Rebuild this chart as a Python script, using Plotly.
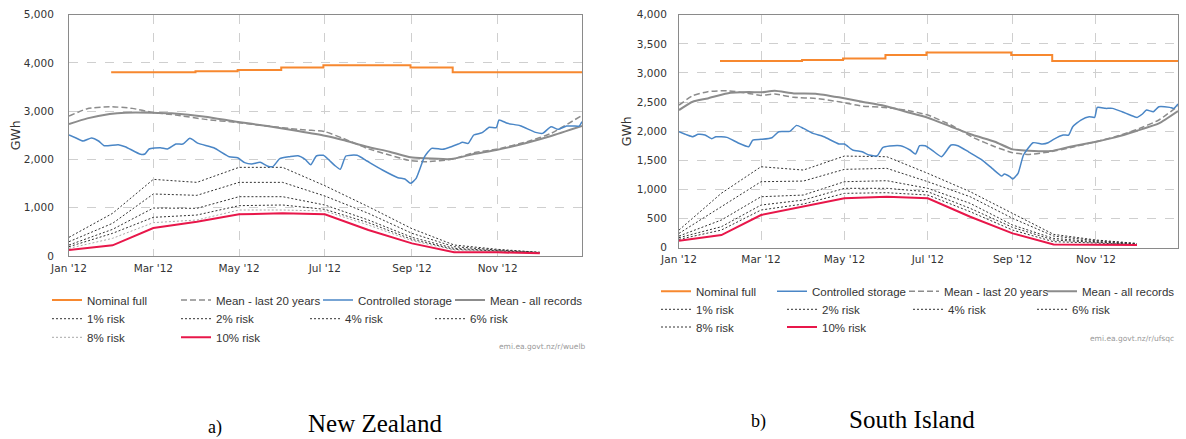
import plotly.graph_objects as go

W, H = 1186, 439

# ---------------- New Zealand (left) ----------------
nz_nominal_dates = ["2012-01-31", "2012-03-31", "2012-04-30", "2012-05-31", "2012-06-30", "2012-08-31", "2012-09-30", "2012-12-31"]
nz_nominal = [3805, 3826, 3853, 3905, 3955, 3905, 3805, 3805]

nz_mean20_dates = ["2012-01-01", "2012-01-14", "2012-01-30", "2012-02-15", "2012-02-29", "2012-03-17", "2012-04-07", "2012-04-29",
                   "2012-05-21", "2012-06-12", "2012-07-01", "2012-07-14", "2012-07-31", "2012-08-16", "2012-08-31", "2012-09-12",
                   "2012-09-29", "2012-10-15", "2012-10-31", "2012-11-22", "2012-12-09", "2012-12-31"]
nz_mean20 = [2900, 3052, 3094, 3059, 2977, 2921, 2831, 2769, 2693, 2624, 2576, 2438, 2231, 2093, 1975, 1954,
             2003, 2141, 2210, 2369, 2541, 2914]

nz_meanall_dates = ["2012-01-01", "2012-01-14", "2012-01-30", "2012-02-10", "2012-02-29", "2012-03-14", "2012-04-07", "2012-04-29",
                    "2012-05-21", "2012-06-12", "2012-07-01", "2012-07-14", "2012-07-31", "2012-08-16", "2012-08-31", "2012-09-10",
                    "2012-09-29", "2012-10-15", "2012-10-31", "2012-11-22", "2012-12-09", "2012-12-31"]
nz_meanall = [2735, 2852, 2942, 2970, 2970, 2956, 2887, 2783, 2693, 2590, 2493, 2403, 2265, 2162, 2044, 2023,
              2010, 2113, 2196, 2348, 2486, 2693]

nz_storage_dates = ["2012-01-01", "2012-01-06", "2012-01-11", "2012-01-17", "2012-01-22", "2012-01-26", "2012-02-05", "2012-02-10",
                    "2012-02-21", "2012-02-24", "2012-02-27", "2012-03-06", "2012-03-11", "2012-03-17", "2012-03-22", "2012-03-27",
                    "2012-04-02", "2012-04-13", "2012-04-24", "2012-04-30", "2012-05-05", "2012-05-10", "2012-05-16", "2012-05-21",
                    "2012-05-25", "2012-05-30", "2012-06-06", "2012-06-12", "2012-06-17", "2012-06-21", "2012-06-25", "2012-06-30",
                    "2012-07-04", "2012-07-08", "2012-07-12", "2012-07-16", "2012-07-24", "2012-07-31", "2012-08-11", "2012-08-22",
                    "2012-08-27", "2012-08-31", "2012-09-04", "2012-09-10", "2012-09-15", "2012-09-23", "2012-09-29", "2012-10-04",
                    "2012-10-07", "2012-10-11", "2012-10-15", "2012-10-21", "2012-10-26", "2012-10-31", "2012-11-02", "2012-11-08",
                    "2012-11-17", "2012-11-28", "2012-12-03", "2012-12-09", "2012-12-14", "2012-12-20", "2012-12-25", "2012-12-29",
                    "2012-12-31"]
nz_storage = [2507, 2445, 2383, 2445, 2383, 2286, 2307, 2265, 2106, 2113, 2217, 2244, 2217, 2320, 2320, 2438,
              2334, 2244, 2058, 2037, 1934, 1906, 1941, 1865, 1851, 2017, 2058, 2079, 2003, 1892, 2072, 2086,
              1989, 1878, 1796, 2072, 2086, 1968, 1782, 1623, 1595, 1505, 1609, 2058, 2231, 2210, 2265, 2320,
              2355, 2334, 2507, 2555, 2666, 2659, 2818, 2749, 2700, 2562, 2541, 2679, 2624, 2693, 2693, 2693,
              2783]

risk_dates = ["2012-01-01", "2012-02-01", "2012-03-01", "2012-04-01", "2012-05-01", "2012-06-01",
              "2012-07-01", "2012-08-01", "2012-09-01", "2012-10-01", "2012-11-01", "2012-12-01"]
nz_risk1 = [387, 884, 1588, 1526, 1837, 1837, 1457, 1022, 566, 228, 138, 76]
nz_risk2 = [297, 677, 1285, 1257, 1526, 1526, 1243, 884, 470, 193, 124, 76]
nz_risk4 = [228, 552, 994, 988, 1229, 1229, 1057, 746, 387, 159, 110, 69]
nz_risk6 = [193, 470, 801, 849, 1043, 1057, 967, 691, 345, 138, 104, 69]
nz_risk8 = [159, 366, 691, 746, 953, 953, 932, 642, 318, 124, 97, 62]
nz_risk10 = [124, 221, 580, 712, 863, 884, 863, 539, 262, 76, 76, 55]

# ---------------- South Island (right) ----------------
si_nominal_dates = nz_nominal_dates
si_nominal = [3204, 3221, 3250, 3307, 3353, 3307, 3204, 3204]

si_mean_dates = ["2012-01-01", "2012-01-11", "2012-01-22", "2012-02-05", "2012-02-21", "2012-03-01", "2012-03-11", "2012-03-25",
                 "2012-04-10", "2012-04-27", "2012-05-14", "2012-05-30", "2012-06-15", "2012-07-01", "2012-07-18", "2012-08-03",
                 "2012-08-19", "2012-09-01", "2012-09-13", "2012-09-29", "2012-10-13", "2012-11-01", "2012-11-15", "2012-12-01",
                 "2012-12-17", "2012-12-31"]
si_meanall = [2363, 2506, 2563, 2649, 2672, 2667, 2695, 2649, 2644, 2581, 2506, 2438, 2335, 2232, 2077, 1934,
              1820, 1688, 1665, 1659, 1734, 1820, 1894, 2008, 2134, 2346]
si_mean20 = [2449, 2609, 2678, 2695, 2649, 2615, 2638, 2581, 2563, 2506, 2432, 2409, 2363, 2277, 2106, 1894,
             1734, 1631, 1602, 1648, 1717, 1820, 1905, 2031, 2192, 2432]

si_storage_dates = ["2012-01-01", "2012-01-07", "2012-01-11", "2012-01-15", "2012-01-20", "2012-01-25", "2012-01-28", "2012-02-05",
                    "2012-02-13", "2012-02-21", "2012-02-24", "2012-03-01", "2012-03-09", "2012-03-14", "2012-03-22", "2012-03-27",
                    "2012-04-01", "2012-04-08", "2012-04-16", "2012-04-27", "2012-05-01", "2012-05-07", "2012-05-14", "2012-05-19",
                    "2012-05-25", "2012-05-29", "2012-06-03", "2012-06-11", "2012-06-18", "2012-06-22", "2012-06-25", "2012-06-29",
                    "2012-07-04", "2012-07-11", "2012-07-18", "2012-07-23", "2012-07-31", "2012-08-09", "2012-08-17", "2012-08-24",
                    "2012-08-26", "2012-08-30", "2012-09-01", "2012-09-05", "2012-09-09", "2012-09-16", "2012-09-23", "2012-09-27",
                    "2012-10-01", "2012-10-08", "2012-10-12", "2012-10-15", "2012-10-21", "2012-10-27", "2012-10-31", "2012-11-02",
                    "2012-11-08", "2012-11-13", "2012-11-20", "2012-11-26", "2012-12-01", "2012-12-05", "2012-12-08", "2012-12-13",
                    "2012-12-17", "2012-12-25", "2012-12-28", "2012-12-31"]
si_storage = [1991, 1934, 1905, 1946, 1934, 1871, 1905, 1894, 1802, 1734, 1848, 1860, 1888, 1991, 1997, 2100,
              2048, 1963, 1905, 1780, 1780, 1677, 1648, 1591, 1579, 1717, 1745, 1751, 1677, 1608, 1751, 1751,
              1677, 1562, 1762, 1751, 1642, 1516, 1362, 1230, 1265, 1219, 1179, 1276, 1591, 1802, 1780, 1802,
              1860, 1934, 1934, 2077, 2192, 2249, 2237, 2409, 2392, 2392, 2335, 2277, 2237, 2295, 2363, 2335,
              2420, 2409, 2392, 2466]

si_risk1 = [303, 935, 1390, 1333, 1573, 1562, 1276, 961, 589, 229, 132, 74]
si_risk2 = [246, 704, 1133, 1144, 1345, 1362, 1133, 875, 504, 200, 120, 69]
si_risk4 = [200, 475, 875, 904, 1133, 1150, 1019, 761, 389, 160, 103, 63]
si_risk6 = [172, 360, 732, 818, 1019, 1019, 961, 675, 349, 132, 92, 57]
si_risk8 = [143, 303, 647, 750, 933, 944, 904, 618, 303, 103, 80, 51]
si_risk10 = [120, 217, 561, 704, 847, 875, 847, 532, 246, 57, 57, 46]

# ---------------- styles ----------------
ORANGE = "#F7882F"
BLUE = "#4A86C6"
GREY = "#8C8C8C"
RED = "#E8174A"
DARK = "#333333"
LIGHT = "#A8A8A8"

LEG_FONT = dict(family="Liberation Sans, Arial, sans-serif", size=11.5, color="#333333")
TICK_FONT = dict(family="DejaVu Sans, sans-serif", size=10.5, color="#333333")

fig = go.Figure()


def add(x, y, name, color, width, dash, xa, ya, legend, lw, rank, shape="linear"):
    line = dict(color=color, width=width, dash=dash, shape=shape)
    if shape == "spline":
        line["smoothing"] = 0.5
    fig.add_trace(go.Scatter(
        x=x, y=y, name=name, mode="lines", line=line,
        xaxis=xa, yaxis=ya, legend=legend, legendwidth=lw, legendrank=rank,
        hoverinfo="skip"))


DOT = "2px,2px"
DASH = "6px,3px"

# Left chart (New Zealand)
add(risk_dates, nz_risk1, "1% risk", DARK, 1, DOT, "x", "y", "legend2", 84, 1)
add(risk_dates, nz_risk2, "2% risk", DARK, 1, DOT, "x", "y", "legend2", 84, 2)
add(risk_dates, nz_risk4, "4% risk", DARK, 1, DOT, "x", "y", "legend2", 80, 3)
add(risk_dates, nz_risk6, "6% risk", DARK, 1, DOT, "x", "y", "legend2", 60, 4)
add(risk_dates, nz_risk8, "8% risk", LIGHT, 1, DOT, "x", "y", "legend3", 84, 1)
add(risk_dates, nz_risk10, "10% risk", RED, 2, "solid", "x", "y", "legend3", 60, 2)
add(nz_meanall_dates, nz_meanall, "Mean - all records", GREY, 2, "solid", "x", "y", "legend", 96, 4, shape="spline")
add(nz_mean20_dates, nz_mean20, "Mean - last 20 years", GREY, 1.5, DASH, "x", "y", "legend", 97, 2, shape="spline")
add(nz_storage_dates, nz_storage, "Controlled storage", BLUE, 1.5, "solid", "x", "y", "legend", 87, 3, shape="spline")
add(nz_nominal_dates, nz_nominal, "Nominal full", ORANGE, 2, "solid", "x", "y", "legend", 84, 1, shape="hv")

# Right chart (South Island)
add(risk_dates, si_risk1, "1% risk", DARK, 1, DOT, "x2", "y2", "legend5", 81, 1)
add(risk_dates, si_risk2, "2% risk", DARK, 1, DOT, "x2", "y2", "legend5", 81, 2)
add(risk_dates, si_risk4, "4% risk", DARK, 1, DOT, "x2", "y2", "legend5", 79, 3)
add(risk_dates, si_risk6, "6% risk", DARK, 1, DOT, "x2", "y2", "legend5", 60, 4)
add(risk_dates, si_risk8, "8% risk", DARK, 1, DOT, "x2", "y2", "legend6", 81, 1)
add(risk_dates, si_risk10, "10% risk", RED, 2, "solid", "x2", "y2", "legend6", 60, 2)
add(si_mean_dates, si_meanall, "Mean - all records", GREY, 2, "solid", "x2", "y2", "legend4", 94, 4, shape="spline")
add(si_mean_dates, si_mean20, "Mean - last 20 years", GREY, 1.5, DASH, "x2", "y2", "legend4", 93, 3, shape="spline")
add(si_storage_dates, si_storage, "Controlled storage", BLUE, 1.5, "solid", "x2", "y2", "legend4", 87, 2, shape="spline")
add(si_nominal_dates, si_nominal, "Nominal full", ORANGE, 2, "solid", "x2", "y2", "legend4", 71, 1, shape="hv")


def px_x(p):
    return p / W


def px_y(p):
    return 1 - p / H


xcommon = dict(type="date", range=["2012-01-01", "2012-12-31"], tick0="2012-01-01", dtick="M2",
               tickformat="%b '%y", showgrid=True, gridcolor="#CFCFCF", griddash="dash", gridwidth=1,
               showline=True, mirror=True, linecolor="#8A8A8A", linewidth=1, ticks="",
               tickfont=TICK_FONT, ticklabelstandoff=2, zeroline=False, fixedrange=True)
ycommon = dict(showgrid=True, gridcolor="#CFCFCF", griddash="dash", gridwidth=1,
               showline=True, mirror=True, linecolor="#8A8A8A", linewidth=1, ticks="",
               tickformat=",d", tickfont=TICK_FONT, zeroline=False, fixedrange=True,
               title=dict(text="GWh", font=dict(family="DejaVu Sans, sans-serif", size=12.5, color="#333333")))

legend_common = dict(orientation="h", xanchor="left", yanchor="middle", bgcolor="rgba(0,0,0,0)",
                     borderwidth=0, font=LEG_FONT, itemclick=False, itemdoubleclick=False,
                     traceorder="normal")

fig.update_layout(
    width=W, height=H, margin=dict(l=0, r=0, t=0, b=0, autoexpand=False),
    paper_bgcolor="white", plot_bgcolor="white", showlegend=True,
    xaxis=dict(xcommon, domain=[px_x(69), px_x(582)], anchor="y"),
    yaxis=dict(ycommon, domain=[px_y(256), px_y(14.7)], anchor="x", range=[0, 5000], dtick=1000,
               ticklabelstandoff=12, title_standoff=0),
    xaxis2=dict(xcommon, domain=[px_x(679), px_x(1178)], anchor="y2"),
    yaxis2=dict(ycommon, domain=[px_y(247.7), px_y(14.7)], anchor="x2", range=[0, 4000], dtick=500,
                ticklabelstandoff=9, title_standoff=2),
    legend=dict(legend_common, x=px_x(47), y=px_y(300)),
    legend2=dict(legend_common, x=px_x(47), y=px_y(318.7)),
    legend3=dict(legend_common, x=px_x(47), y=px_y(337.3)),
    legend4=dict(legend_common, x=px_x(656), y=px_y(291.3)),
    legend5=dict(legend_common, x=px_x(656), y=px_y(309.3)),
    legend6=dict(legend_common, x=px_x(656), y=px_y(327)),
)

serif = "Liberation Serif, Times New Roman, serif"
annots = [
    dict(text="a)", x=px_x(215), y=px_y(427), font=dict(family=serif, size=18, color="#000")),
    dict(text="New Zealand", x=px_x(375), y=px_y(423), font=dict(family=serif, size=25, color="#000")),
    dict(text="b)", x=px_x(758), y=px_y(421), font=dict(family=serif, size=18, color="#000")),
    dict(text="South Island", x=px_x(912), y=px_y(419), font=dict(family=serif, size=25, color="#000")),
]
for a in annots:
    fig.add_annotation(xref="paper", yref="paper", showarrow=False, xanchor="center", yanchor="middle", **a)

fig.add_annotation(text="emi.ea.govt.nz/r/wuelb", xref="paper", yref="paper", x=px_x(588), y=px_y(346),
                   xanchor="right", yanchor="middle", showarrow=False,
                   font=dict(family="DejaVu Sans, sans-serif", size=7.5, color="#999999"))
fig.add_annotation(text="emi.ea.govt.nz/r/ufsqc", xref="paper", yref="paper", x=px_x(1176), y=px_y(338),
                   xanchor="right", yanchor="middle", showarrow=False,
                   font=dict(family="DejaVu Sans, sans-serif", size=7.5, color="#999999"))

fig.write_html("out.html", config=dict(displayModeBar=False, staticPlot=True))
